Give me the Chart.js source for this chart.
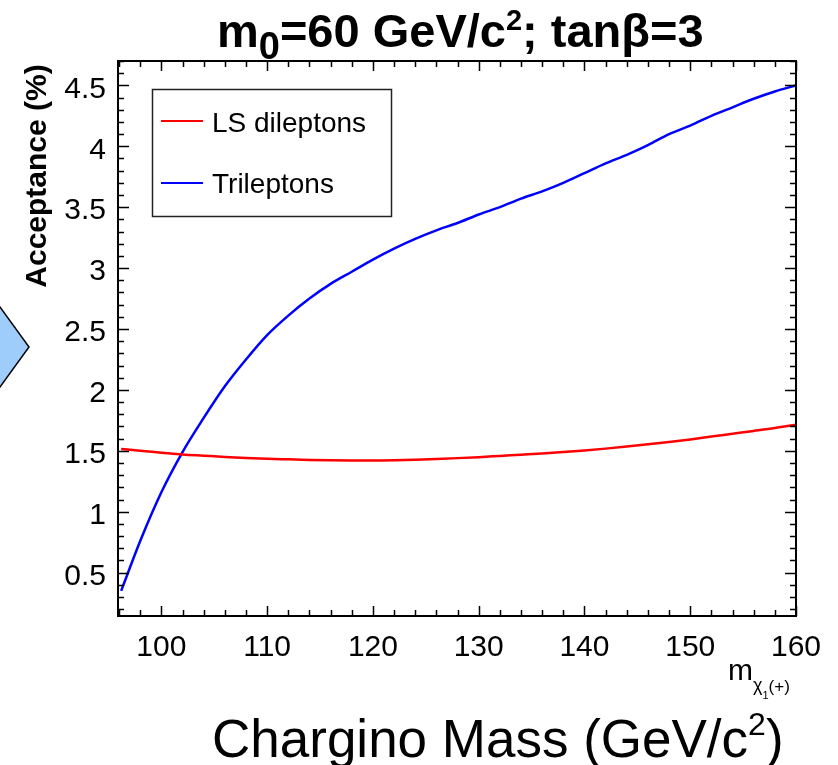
<!DOCTYPE html>
<html>
<head>
<meta charset="utf-8">
<script src="https://cdn.jsdelivr.net/npm/chart.js@4.4.0/dist/chart.umd.min.js"></script>
<style>
  html, body { margin: 0; padding: 0; background: #fff; }
</style>
</head>
<body>
<canvas id="acc" width="838" height="765"></canvas>
<script>
// Acceptance vs chargino mass (m0=60, tanb=3) — ROOT-style frame drawn by a small plugin
const massPoints = [96.2, 98, 100, 102, 104, 106, 108, 110, 112, 114, 116, 118, 120, 122, 124, 126, 128,
  130, 132, 134, 136, 138, 140, 142, 144, 146, 148, 150, 152, 154, 156, 158, 160]
const lsDileptons = [1.515, 1.50, 1.485, 1.47, 1.46, 1.45, 1.442, 1.435, 1.43, 1.425, 1.422, 1.421, 1.421,
  1.423, 1.427, 1.433, 1.44, 1.448, 1.458, 1.468, 1.478, 1.49, 1.503, 1.518, 1.535, 1.553, 1.572, 1.593,
  1.617, 1.64, 1.663, 1.687, 1.715]
const trileptons = [0.35, 0.76, 1.16, 1.49, 1.77, 2.03, 2.25, 2.45, 2.61, 2.75, 2.87, 2.97, 3.07, 3.16,
  3.24, 3.31, 3.37, 3.44, 3.50, 3.57, 3.63, 3.70, 3.78, 3.86, 3.93, 4.01, 4.10, 4.17, 4.25, 4.32, 4.39,
  4.45, 4.50]
const seriesNames = ['LS dileptons', 'Trileptons']
const xTickLabels = [100, 110, 120, 130, 140, 150, 160]
const yTickLabels = [0.5, 1, 1.5, 2, 2.5, 3, 3.5, 4, 4.5]

const FONT = "'Liberation Sans', Arial, Helvetica, sans-serif"
const RED = '#ff0000'
const BLUE = '#0000ff'

// draw a run of text pieces (for sub/superscripts)
function rich(ctx, parts, x, y) {
  for (const p of parts) {
    ctx.font = (p.bold ? 'bold ' : '') + p.size + 'px ' + FONT
    ctx.fillText(p.t, x, y + (p.dy || 0))
    x += ctx.measureText(p.t).width
  }
}

const rootFrame = {
  id: 'rootFrame',
  beforeDraw(chart) {
    const ctx = chart.ctx
    ctx.save()
    ctx.fillStyle = '#fff'
    ctx.fillRect(0, 0, chart.width, chart.height)
    // the slide's arrow peeking in from the left
    ctx.beginPath()
    ctx.moveTo(-5, 300)
    ctx.lineTo(29, 347)
    ctx.lineTo(-5, 394)
    ctx.closePath()
    ctx.fillStyle = '#9fcdfb'
    ctx.fill()
    ctx.strokeStyle = '#000'
    ctx.lineWidth = 1.5
    ctx.stroke()
    ctx.restore()
  },
  afterDraw(chart) {
    const ctx = chart.ctx
    const { left, right, top, bottom } = chart.chartArea
    const xs = chart.scales.x, ys = chart.scales.y
    ctx.save()
    ctx.strokeStyle = '#000'
    ctx.fillStyle = '#000'

    // inward ticks on all four sides
    ctx.lineWidth = 1.5
    ctx.beginPath()
    for (let v = 96; v <= 160.01; v += 2) {
      const px = Math.round(xs.getPixelForValue(v)) + 0.5
      const len = xTickLabels.includes(Math.round(v)) ? 10 : 6
      ctx.moveTo(px, bottom); ctx.lineTo(px, bottom - len)
      ctx.moveTo(px, top); ctx.lineTo(px, top + len)
    }
    for (let i = 2; i <= 47; i++) {
      const v = i / 10
      const py = Math.round(ys.getPixelForValue(v)) + 0.5
      const len = i % 5 === 0 ? 11 : 6
      ctx.moveTo(left, py); ctx.lineTo(left + len, py)
      ctx.moveTo(right, py); ctx.lineTo(right - len, py)
    }
    ctx.stroke()

    ctx.lineWidth = 2
    ctx.strokeRect(left, top, right - left, bottom - top)

    // legend box
    ctx.lineWidth = 1.5
    ctx.strokeStyle = '#222'
    ctx.strokeRect(152.5, 89.5, 239, 127)
    const rows = [{ name: seriesNames[0], color: RED, y: 121, base: 132 },
                  { name: seriesNames[1], color: BLUE, y: 183, base: 193 }]
    ctx.lineWidth = 2
    for (const r of rows) {
      ctx.strokeStyle = r.color
      ctx.beginPath(); ctx.moveTo(161, r.y); ctx.lineTo(203, r.y); ctx.stroke()
      ctx.font = '28px ' + FONT
      ctx.textAlign = 'left'
      ctx.textBaseline = 'alphabetic'
      ctx.fillText(r.name, 212, r.base)
    }

    // title
    ctx.textBaseline = 'alphabetic'
    rich(ctx, [
      { t: 'm', size: 47, bold: true },
      { t: '0', size: 38, bold: true, dy: 12 },
      { t: '=60 GeV/c', size: 47, bold: true },
      { t: '2', size: 29, bold: true, dy: -17 },
      { t: '; tanβ=3', size: 47, bold: true }
    ], 217, 47)

    // y axis title
    ctx.save()
    ctx.translate(46, 176)
    ctx.rotate(-Math.PI / 2)
    ctx.textAlign = 'center'
    ctx.font = 'bold 30px ' + FONT
    ctx.fillText('Acceptance (%)', 0, 0)
    ctx.restore()

    // small x axis label (ROOT)
    rich(ctx, [
      { t: 'm', size: 30 },
      { t: 'χ', size: 18, dy: 11 },
      { t: '1', size: 11, dy: 19 },
      { t: '(+)', size: 17, dy: 12 }
    ], 728, 680)

    // slide caption
    rich(ctx, [
      { t: 'Chargino Mass (GeV/c', size: 53 },
      { t: '2', size: 32, dy: -22 },
      { t: ')', size: 53 }
    ], 212, 757)

    ctx.restore()
  }
}

new Chart(document.getElementById('acc'), {
  type: 'line',
  data: {
    datasets: [
      { label: seriesNames[0], data: massPoints.map((m, i) => ({ x: m, y: lsDileptons[i] })),
        borderColor: RED, borderWidth: 2.5, pointRadius: 0, cubicInterpolationMode: 'monotone' },
      { label: seriesNames[1], data: massPoints.map((m, i) => ({ x: m, y: trileptons[i] })),
        borderColor: BLUE, borderWidth: 2.5, pointRadius: 0, cubicInterpolationMode: 'monotone' }
    ]
  },
  options: {
    responsive: false,
    animation: false,
    layout: { padding: { top: 61, right: 42, left: 0, bottom: 0 } },
    plugins: { legend: { display: false }, tooltip: { enabled: false } },
    scales: {
      x: {
        type: 'linear', min: 95.9, max: 160,
        afterBuildTicks: (s) => { s.ticks = xTickLabels.map((v) => ({ value: v })) },
        afterFit: (s) => { s.height = 149 },
        grid: { display: false, drawTicks: false },
        border: { display: false },
        ticks: { color: '#000', padding: 14, maxRotation: 0, autoSkip: false, font: { size: 30, family: FONT },
          callback: (v) => String(v) }
      },
      y: {
        type: 'linear', min: 0.144, max: 4.70,
        afterBuildTicks: (s) => { s.ticks = yTickLabels.map((v) => ({ value: v })) },
        afterFit: (s) => { s.width = 118 },
        grid: { display: false, drawTicks: false },
        border: { display: false },
        ticks: { color: '#000', padding: 12, labelOffset: 4, autoSkip: false, font: { size: 30, family: FONT },
          callback: (v) => String(v) }
      }
    }
  },
  plugins: [rootFrame]
})
</script>
</body>
</html>
